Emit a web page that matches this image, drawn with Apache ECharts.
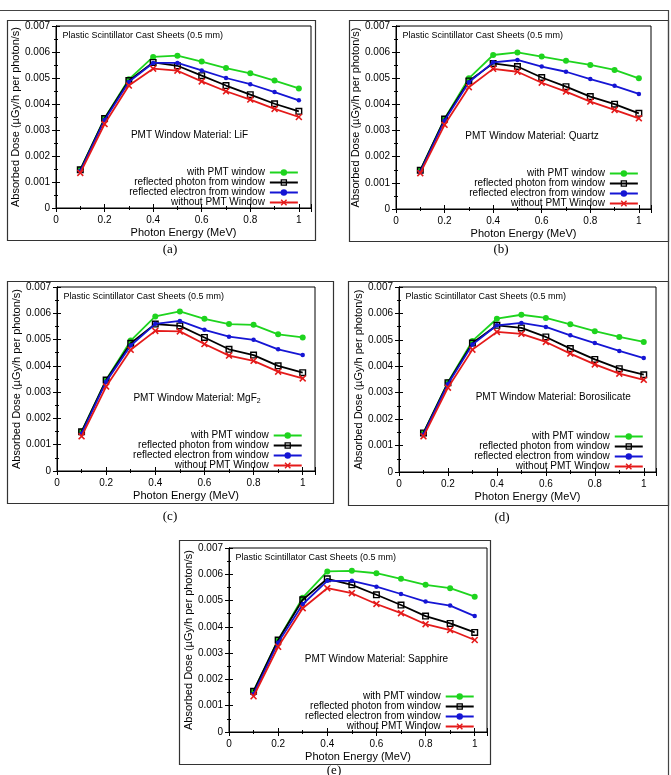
<!DOCTYPE html>
<html><head><meta charset="utf-8">
<script src="https://cdn.jsdelivr.net/npm/echarts@6/dist/echarts.min.js"></script>
<style>html,body{margin:0;padding:0;background:#fff}#c{width:671px;height:775px}</style>
</head><body><div id="c"></div>
<script>
// ---------- data ----------
const energy = [0.1, 0.2, 0.3, 0.4, 0.5, 0.6, 0.7, 0.8, 0.9, 1.0];
const seriesNames = ['with PMT window', 'reflected photon from window', 'reflected electron from window', 'without PMT Window'];
const xTickValues = [0, 0.2, 0.4, 0.6, 0.8, 1];
const yTickValues = [0, 0.001, 0.002, 0.003, 0.004, 0.005, 0.006, 0.007];
const captions = ['(a)', '(b)', '(c)', '(d)', '(e)'];
const materials = ['LiF', 'Quartz', 'MgF{sub|2}', 'Borosilicate', 'Sapphire'];

// (a) LiF
const withLiF      = [0.00148, 0.00345, 0.00495, 0.00581, 0.00586, 0.00563, 0.00538, 0.00518, 0.00490, 0.00460];
const photonLiF    = [0.00147, 0.00344, 0.00490, 0.00560, 0.00547, 0.00509, 0.00471, 0.00436, 0.00401, 0.00372];
const electronLiF  = [0.00142, 0.00338, 0.00485, 0.00558, 0.00558, 0.00529, 0.00500, 0.00476, 0.00446, 0.00414];
const withoutLiF   = [0.00135, 0.00323, 0.00471, 0.00536, 0.00528, 0.00487, 0.00449, 0.00417, 0.00381, 0.00350];
// (b) Quartz
const withQuartz     = [0.00148, 0.00345, 0.00500, 0.00589, 0.00599, 0.00583, 0.00567, 0.00551, 0.00532, 0.00500];
const photonQuartz   = [0.00148, 0.00344, 0.00490, 0.00557, 0.00545, 0.00503, 0.00468, 0.00430, 0.00401, 0.00366];
const electronQuartz = [0.00142, 0.00338, 0.00485, 0.00561, 0.00570, 0.00545, 0.00525, 0.00497, 0.00471, 0.00440];
const withoutQuartz  = [0.00137, 0.00322, 0.00466, 0.00536, 0.00525, 0.00483, 0.00449, 0.00411, 0.00379, 0.00347];
// (c) MgF2
const withMgF2     = [0.00150, 0.00347, 0.00496, 0.00588, 0.00607, 0.00579, 0.00559, 0.00556, 0.00520, 0.00508];
const photonMgF2   = [0.00149, 0.00346, 0.00486, 0.00559, 0.00552, 0.00508, 0.00463, 0.00441, 0.00400, 0.00374];
const electronMgF2 = [0.00142, 0.00340, 0.00477, 0.00560, 0.00571, 0.00537, 0.00511, 0.00499, 0.00463, 0.00441];
const withoutMgF2  = [0.00132, 0.00321, 0.00461, 0.00533, 0.00531, 0.00483, 0.00439, 0.00419, 0.00378, 0.00352];
// (d) Borosilicate
const withBoro     = [0.00148, 0.00340, 0.00496, 0.00580, 0.00595, 0.00583, 0.00559, 0.00533, 0.00511, 0.00492];
const photonBoro   = [0.00148, 0.00338, 0.00488, 0.00555, 0.00545, 0.00511, 0.00467, 0.00426, 0.00391, 0.00368];
const electronBoro = [0.00142, 0.00333, 0.00482, 0.00555, 0.00564, 0.00549, 0.00517, 0.00488, 0.00458, 0.00431];
const withoutBoro  = [0.00135, 0.00319, 0.00463, 0.00530, 0.00523, 0.00492, 0.00448, 0.00407, 0.00372, 0.00349];
// (e) Sapphire
const withSapphire     = [0.00155, 0.00350, 0.00511, 0.00611, 0.00613, 0.00604, 0.00583, 0.00560, 0.00547, 0.00515];
const photonSapphire   = [0.00155, 0.00350, 0.00503, 0.00583, 0.00560, 0.00522, 0.00483, 0.00441, 0.00413, 0.00379];
const electronSapphire = [0.00145, 0.00340, 0.00486, 0.00575, 0.00575, 0.00553, 0.00525, 0.00496, 0.00481, 0.00441];
const withoutSapphire  = [0.00136, 0.00324, 0.00471, 0.00547, 0.00528, 0.00487, 0.00452, 0.00410, 0.00388, 0.00350];

const panelData = [
  [withLiF, photonLiF, electronLiF, withoutLiF],
  [withQuartz, photonQuartz, electronQuartz, withoutQuartz],
  [withMgF2, photonMgF2, electronMgF2, withoutMgF2],
  [withBoro, photonBoro, electronBoro, withoutBoro],
  [withSapphire, photonSapphire, electronSapphire, withoutSapphire]
];

// ---------- layout / style ----------
const X_MAX = 1.05, Y_MAX = 0.007;
const layout = [
  {L: 56,  T: 26,  W: 255, H: 182, frame: [7, 20, 315, 240],  cap: [170, 250], mat: [0.55, 0.00278]},
  {L: 396, T: 26,  W: 255, H: 183, frame: [349, 20, 668, 241], cap: [501, 250], mat: [0.56, 0.00280]},
  {L: 57,  T: 287, W: 258, H: 184, frame: [7, 281, 333, 503], cap: [170, 517], mat: [0.57, 0.00278]},
  {L: 399, T: 287, W: 257, H: 185, frame: [348, 281, 668, 505], cap: [502, 518], mat: [0.63, 0.00281]},
  {L: 229, T: 548, W: 258, H: 184, frame: [179, 540, 490, 764], cap: [334, 771], mat: [0.60, 0.00278]}
];
const FONT = '"Liberation Sans", Arial, Helvetica, sans-serif';
const colors = ['#1ed41e', '#000000', '#1515d4', '#e41a1a'];
const crossPath = 'path://M0,1.6L1.6,0L5,3.4L8.4,0L10,1.6L6.6,5L10,8.4L8.4,10L5,6.6L1.6,10L0,8.4L3.4,5Z';
const squarePath = 'path://M0,0L10,0L10,10L0,10ZM2,2L2,8L8,8L8,2Z';
const symbols = ['circle', squarePath, 'circle', crossPath];
const symbolSizes = [6, 7, 4.5, 7];

const grids = [], xAxes = [], yAxes = [], series = [], legends = [], graphics = [];

function tickCommon() {
  return {
    axisLine: {show: true, lineStyle: {color: '#000', width: 1}},
    axisTick: {show: true, inside: true, length: 4, lineStyle: {color: '#000', width: 1}},
    minorTick: {show: true, splitNumber: 2, length: 2, lineStyle: {color: '#000', width: 1}},
    splitLine: {show: false}
  };
}

layout.forEach((p, i) => {
  grids.push({left: p.L, top: p.T, width: p.W, height: p.H, containLabel: false,
    show: true, borderColor: '#000', borderWidth: 1, backgroundColor: '#fff'});
  xAxes.push(Object.assign(tickCommon(), {
    type: 'value', gridIndex: i, position: 'bottom', min: 0, max: X_MAX, interval: 0.2,
    name: 'Photon Energy (MeV)', nameLocation: 'middle', nameGap: 19,
    nameTextStyle: {fontFamily: FONT, fontSize: 11, color: '#000'},
    axisLabel: {show: true, showMaxLabel: false, margin: 7, fontFamily: FONT, fontSize: 10, color: '#000',
      formatter: v => (xTickValues.indexOf(Math.round(v * 10) / 10) >= 0 ? String(Math.round(v * 10) / 10) : '')}
  }));
  xAxes.push(Object.assign(tickCommon(), {
    type: 'value', gridIndex: i, position: 'top', min: 0, max: X_MAX, interval: 0.2,
    axisLabel: {show: false}
  }));
  yAxes.push(Object.assign(tickCommon(), {
    type: 'value', gridIndex: i, position: 'left', min: 0, max: Y_MAX, interval: 0.001,
    name: 'Absorbed Dose (\u00b5Gy/h per photon/s)', nameLocation: 'middle', nameGap: 34,
    nameTextStyle: {fontFamily: FONT, fontSize: 11, color: '#000'},
    axisLabel: {show: true, margin: 6, fontFamily: FONT, fontSize: 10, color: '#000',
      formatter: v => {
        const k = Math.round(v * 1000);
        return k === 0 ? '0' : (k / 1000).toFixed(3);
      }}
  }));
  yAxes.push(Object.assign(tickCommon(), {
    type: 'value', gridIndex: i, position: 'right', min: 0, max: Y_MAX, interval: 0.001,
    axisLabel: {show: false}
  }));

  panelData[i].forEach((vals, s) => {
    series.push({
      type: 'line', name: seriesNames[s], xAxisIndex: 2 * i, yAxisIndex: 2 * i,
      data: energy.map((e, k) => [e, vals[k]]),
      symbol: symbols[s], symbolSize: symbolSizes[s], showSymbol: true,
      lineStyle: {color: colors[s], width: 1.8},
      itemStyle: {color: colors[s]},
      emphasis: {disabled: true}, silent: true, z: 2 + s
    });
  });

  const x1px = p.L + p.W / X_MAX;
  legends.push({
    data: seriesNames, orient: 'vertical', align: 'right', selectedMode: false,
    right: 671 - x1px, top: p.T + p.H - 40.5, padding: 0,
    itemWidth: 28, itemHeight: 8, itemGap: 0,
    textStyle: {fontFamily: FONT, fontSize: 10, color: '#000', lineHeight: 9.8}
  });

  // frame around panel
  graphics.push({type: 'rect', silent: true, z: -10,
    shape: {x: p.frame[0] + 0.5, y: p.frame[1] + 0.5, width: p.frame[2] - p.frame[0], height: p.frame[3] - p.frame[1]},
    style: {fill: 'none', stroke: '#333', lineWidth: 1.2}});
  // caption
  graphics.push({type: 'text', silent: true, x: p.cap[0], y: p.cap[1],
    style: {text: captions[i], fill: '#000', font: '13px "Liberation Serif", "Times New Roman", serif', align: 'center', verticalAlign: 'middle'}});
  // inner title
  graphics.push({type: 'text', silent: true, x: p.L + 6.5, y: p.T + 10,
    style: {text: 'Plastic Scintillator Cast Sheets (0.5 mm)', fill: '#000', font: '9px ' + FONT, align: 'left', verticalAlign: 'middle'}});
  // material label
  graphics.push({type: 'text', silent: true,
    x: p.L + p.W * p.mat[0] / X_MAX, y: p.T + p.H * (1 - p.mat[1] / Y_MAX),
    style: {text: 'PMT Window Material: ' + materials[i], fill: '#000', font: '10px ' + FONT,
      align: 'center', verticalAlign: 'middle',
      rich: {sub: {fontSize: 7, fontFamily: FONT, fill: '#000', padding: [6, 0, 0, 0]}}}});
});

// outer figure border (top and right)
graphics.push({type: 'polyline', silent: true, z: -10,
  shape: {points: [[0, 10.5], [668.5, 10.5], [668.5, 775]]},
  style: {fill: 'none', stroke: '#444', lineWidth: 1.2}});

const chart = echarts.init(document.getElementById('c'), null, {renderer: 'canvas'});
chart.setOption({
  animation: false,
  backgroundColor: '#fff',
  grid: grids, xAxis: xAxes, yAxis: yAxes, series: series, legend: legends,
  graphic: graphics
});
</script></body></html>
